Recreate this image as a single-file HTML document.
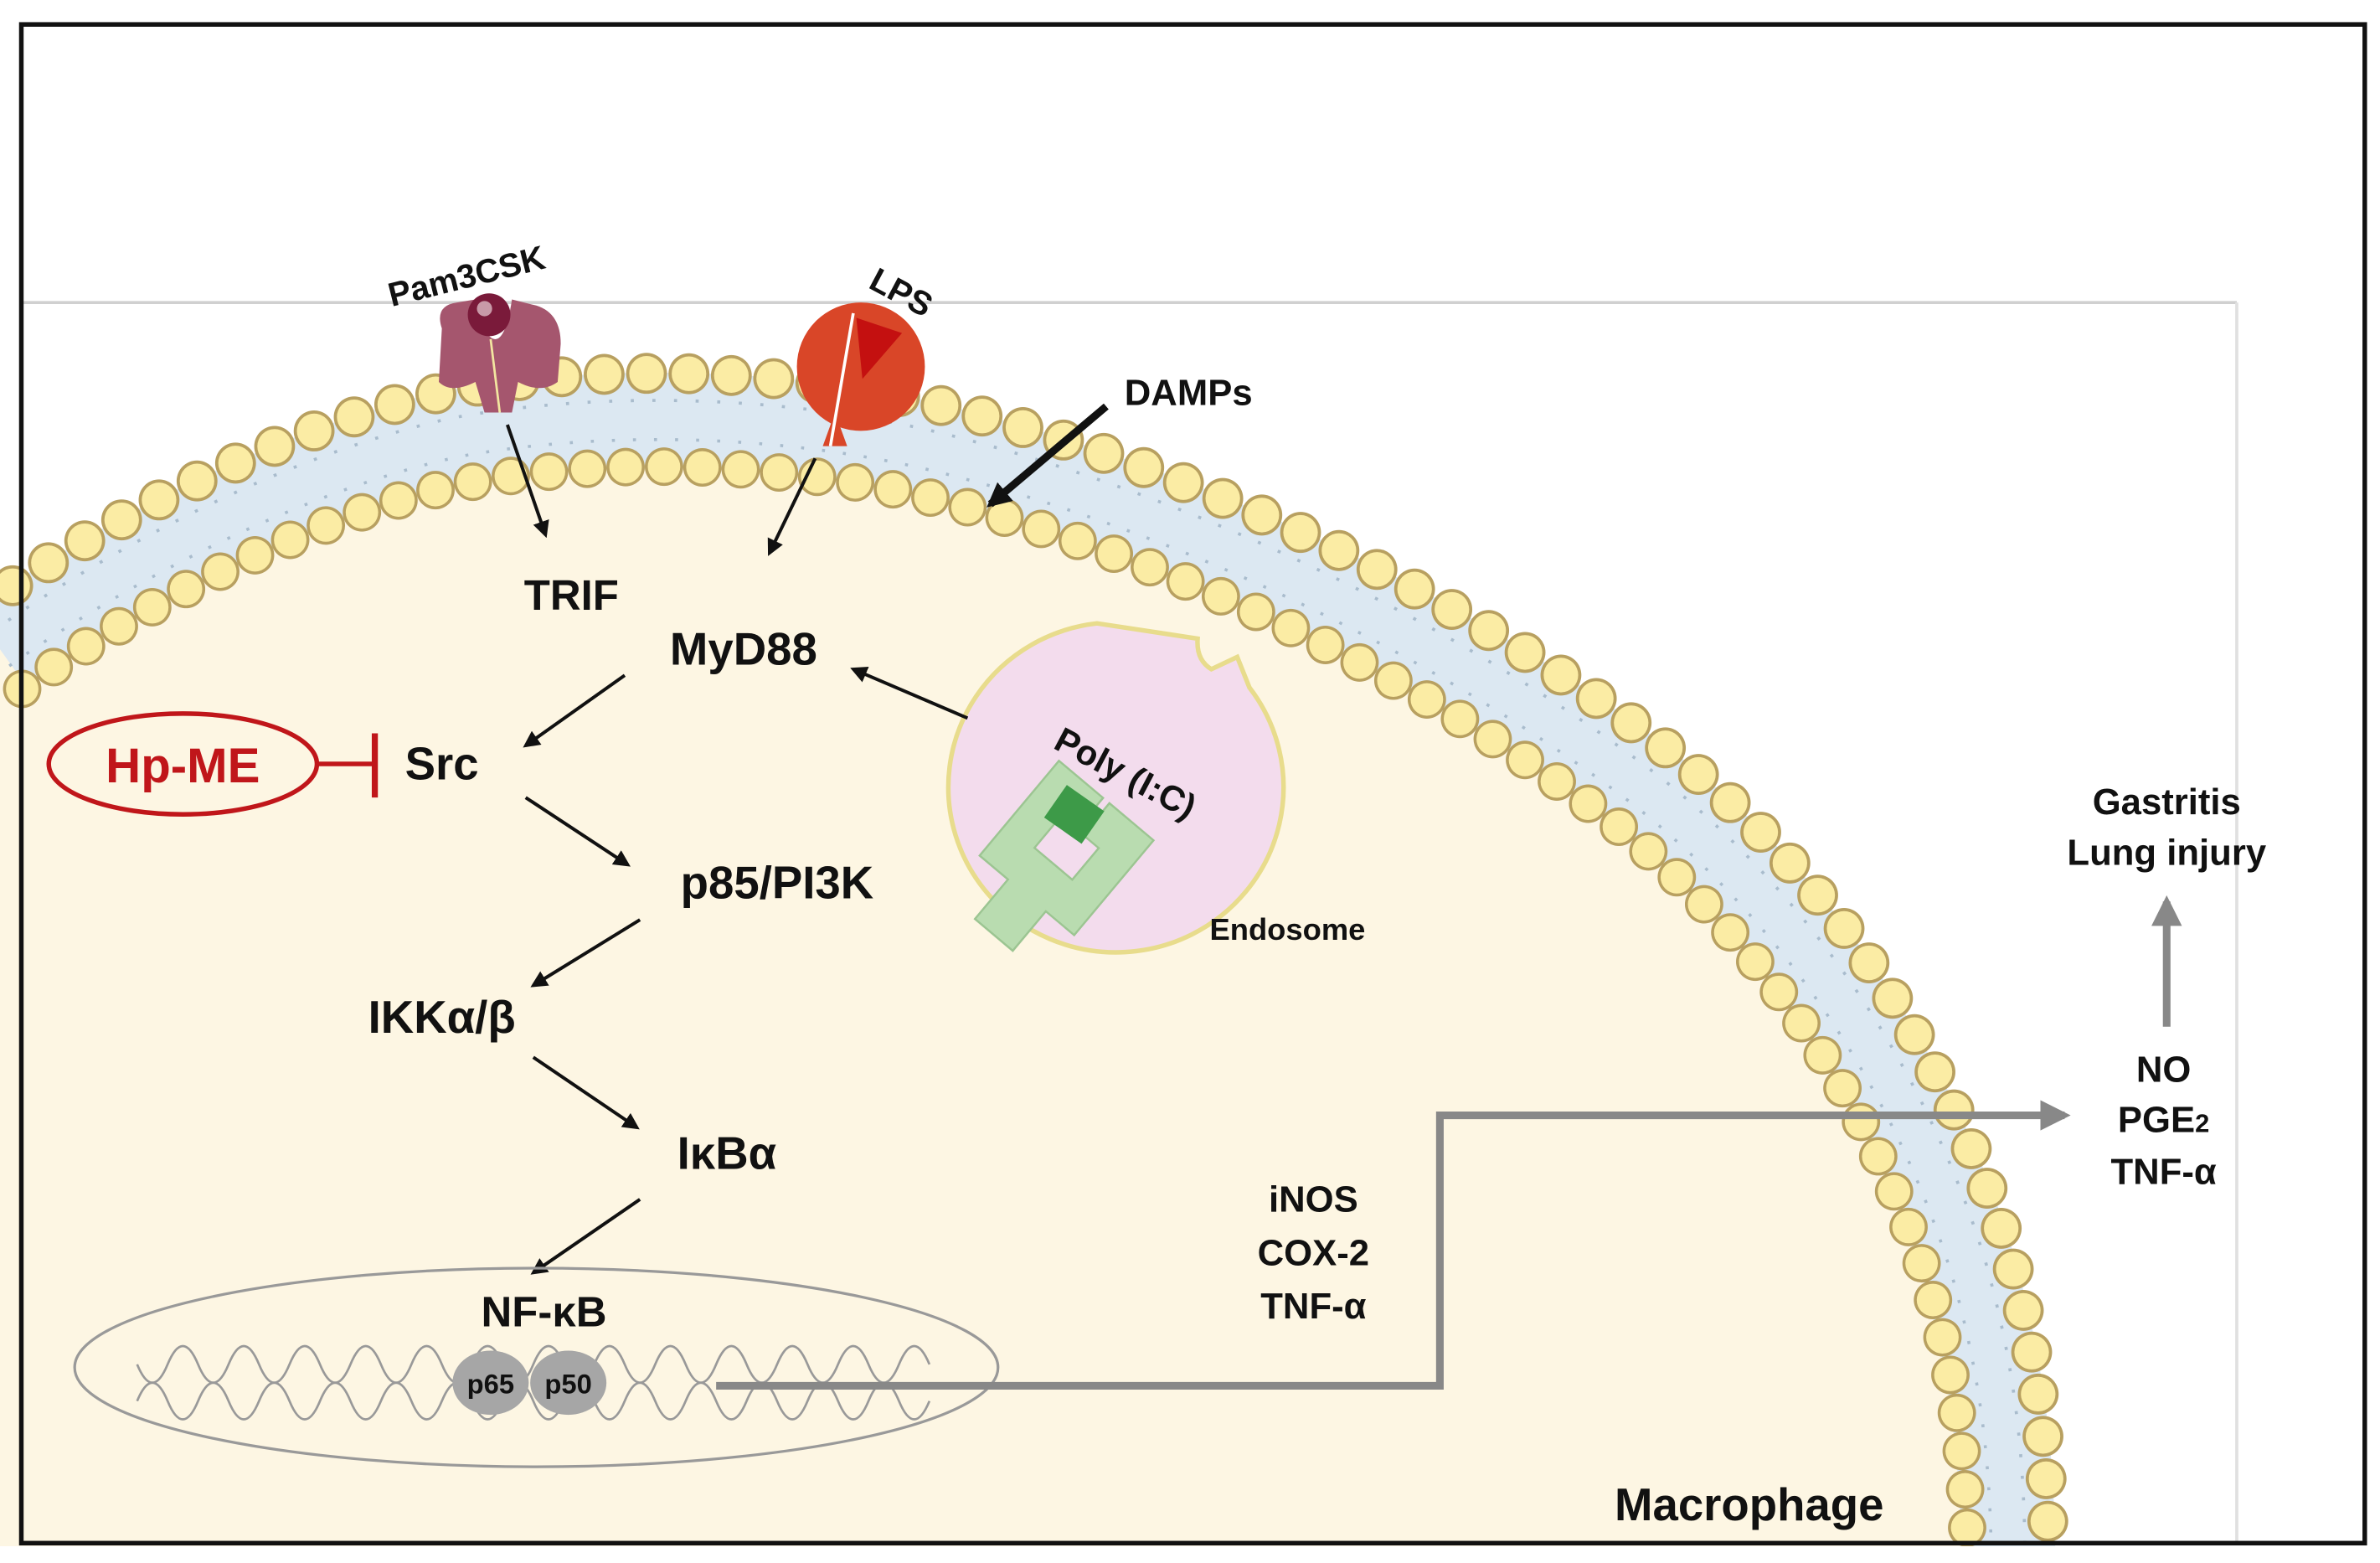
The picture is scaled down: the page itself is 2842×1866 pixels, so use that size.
<!DOCTYPE html>
<html><head><meta charset="utf-8"><style>
html,body{margin:0;padding:0;background:#fff;}
svg{display:block;}
text{font-family:"Liberation Sans",Arial,sans-serif;font-weight:bold;fill:#111;}
</style></head><body>
<svg width="2842" height="1866" viewBox="0 0 1562 1023" preserveAspectRatio="none" xmlns="http://www.w3.org/2000/svg">
<defs>
<marker id="ah" viewBox="0 0 10 10" refX="8" refY="5" markerWidth="5" markerHeight="5" orient="auto"><path d="M0,0 L10,5 L0,10 z" fill="#111"/></marker>
<marker id="ahg" viewBox="0 0 10 10" refX="8" refY="5" markerWidth="4" markerHeight="4" orient="auto"><path d="M0,0 L10,5 L0,10 z" fill="#888"/></marker>
<marker id="ahb" viewBox="0 0 10 10" refX="8" refY="5" markerWidth="3.2" markerHeight="3.2" orient="auto"><path d="M0,0 L10,5 L0,10 z" fill="#111"/></marker>
<path id="mem" d="M0,425 C60,382 180,312 300,286 C400,268 520,272 620,297 C780,337 950,418 1080,517 C1190,604 1258,720 1292,830 C1312,900 1318,960 1318,1030"/>
</defs>
<rect x="0" y="0" width="1562" height="1023" fill="#fff"/>
<path d="M0,425 C60,382 180,312 300,286 C400,268 520,272 620,297 C780,337 950,418 1080,517 C1190,604 1258,720 1292,830 C1312,900 1318,960 1318,1030 L0,1030 Z" fill="#fdf6e3"/>
<line x1="14" y1="198" x2="1468" y2="198" stroke="#d0d0d0" stroke-width="2"/>
<line x1="1468" y1="198" x2="1468" y2="1010" stroke="#e0e0e0" stroke-width="2"/>
<use href="#mem" fill="none" stroke="#dce8f2" stroke-width="62"/>
<use href="#mem" fill="none" stroke="#a9bccd" stroke-width="2" stroke-dasharray="2 12" transform="translate(470,1260) scale(1.013) translate(-470,-1260)"/>
<use href="#mem" fill="none" stroke="#a9bccd" stroke-width="2" stroke-dasharray="2 12" transform="translate(470,1260) scale(0.987) translate(-470,-1260)"/>
<g transform="translate(470,1260) scale(1.031) translate(-470,-1260)">
<use href="#mem" fill="none" stroke="#b8a060" stroke-width="26" stroke-linecap="round" stroke-dasharray="0 27"/>
<use href="#mem" fill="none" stroke="#fbeca4" stroke-width="22" stroke-linecap="round" stroke-dasharray="0 27"/>
</g>
<g transform="translate(470,1260) scale(0.969) translate(-470,-1260)">
<use href="#mem" fill="none" stroke="#b8a060" stroke-width="26" stroke-linecap="round" stroke-dasharray="0 26"/>
<use href="#mem" fill="none" stroke="#fbeca4" stroke-width="22" stroke-linecap="round" stroke-dasharray="0 26"/>
</g>
<rect x="14" y="16" width="1538" height="994" fill="none" stroke="#111" stroke-width="3"/>
<rect x="0" y="1012" width="1562" height="11" fill="#fff"/>

<!-- Pam3CSK receptor -->
<path d="M290,215 Q285,200 300,198 L312,196 Q318,222 325,222 Q332,222 336,196 L352,200 Q368,205 368,225 L366,250 Q355,258 340,250 L336,270 L318,270 L312,250 Q296,258 288,250 Z" fill="#a5566e"/>
<circle cx="321" cy="206" r="14" fill="#7a1a3a"/>
<circle cx="318" cy="202" r="5" fill="#c89aa8"/>
<line x1="322" y1="222" x2="328" y2="270" stroke="#f2e6a0" stroke-width="1.5"/>
<text x="308" y="188" font-size="22" text-anchor="middle" transform="rotate(-14 308 188)">Pam3CSK</text>
<!-- LPS receptor -->
<circle cx="565" cy="240" r="42" fill="#d94628"/>
<path d="M548,270 L540,292 L556,292 Z" fill="#d94628"/>
<path d="M562,208 L592,218 L566,248 Z" fill="#c41010"/>
<line x1="560" y1="205" x2="545" y2="292" stroke="#fff" stroke-width="2"/>
<text x="588" y="198" font-size="22" text-anchor="middle" transform="rotate(28 588 198)">LPS</text>
<text x="738" y="265" font-size="24">DAMPs</text>
<line x1="726" y1="266" x2="650" y2="330" stroke="#111" stroke-width="5" marker-end="url(#ahb)"/>
<line x1="333" y1="278" x2="358" y2="350" stroke="#111" stroke-width="2.2" marker-end="url(#ah)"/>
<line x1="535" y1="300" x2="505" y2="362" stroke="#111" stroke-width="2.2" marker-end="url(#ah)"/>
<text x="375" y="399" font-size="28" text-anchor="middle">TRIF</text>
<text x="488" y="435" font-size="30" text-anchor="middle">MyD88</text>
<!-- Endosome -->
<path d="M720,408 A110,108 0 1 0 820,450 L812,430 L795,438 Q785,432 786,418 Z" fill="#f3dced" stroke="#e8dc8c" stroke-width="3"/>
<g transform="translate(700,555) rotate(40) scale(1.35) translate(-690,-555)">
<path d="M660,525 h28 v20 h-10 v20 h24 v-20 h-10 v-20 h28 v60 h-18 v25 h-24 v-25 h-18 z" fill="#b9dcb0" stroke="#9cc592" stroke-width="1"/>
</g>
<rect x="690" y="520" width="30" height="26" fill="#3d9a48" transform="rotate(35 705 533)"/>
<text x="735" y="513" font-size="23" text-anchor="middle" transform="rotate(28 735 513)">Poly (I:C)</text>
<text x="845" y="615" font-size="20" text-anchor="middle">Endosome</text>
<line x1="635" y1="470" x2="560" y2="438" stroke="#111" stroke-width="2.2" marker-end="url(#ah)"/>
<line x1="410" y1="442" x2="345" y2="488" stroke="#111" stroke-width="2.2" marker-end="url(#ah)"/>
<ellipse cx="120" cy="500" rx="88" ry="33" fill="none" stroke="#c0161a" stroke-width="3"/>
<text x="120" y="512" font-size="32" text-anchor="middle" style="fill:#c0161a">Hp-ME</text>
<line x1="208" y1="500" x2="246" y2="500" stroke="#c0161a" stroke-width="3"/>
<line x1="246" y1="480" x2="246" y2="522" stroke="#c0161a" stroke-width="4"/>
<text x="290" y="510" font-size="30" text-anchor="middle">Src</text>
<line x1="345" y1="522" x2="412" y2="566" stroke="#111" stroke-width="2.2" marker-end="url(#ah)"/>
<text x="510" y="588" font-size="30" text-anchor="middle">p85/PI3K</text>
<line x1="420" y1="602" x2="350" y2="645" stroke="#111" stroke-width="2.2" marker-end="url(#ah)"/>
<text x="290" y="676" font-size="30" text-anchor="middle">IKKα/β</text>
<line x1="350" y1="692" x2="418" y2="738" stroke="#111" stroke-width="2.2" marker-end="url(#ah)"/>
<text x="477" y="765" font-size="30" text-anchor="middle">IκBα</text>
<line x1="420" y1="785" x2="350" y2="833" stroke="#111" stroke-width="2.2" marker-end="url(#ah)"/>
<ellipse cx="352" cy="895" rx="303" ry="65" fill="none" stroke="#999" stroke-width="1.8"/>
<text x="357" y="868" font-size="28" text-anchor="middle">NF-κB</text>
<path d="M90,893 Q100,917 110,893 T130,893 T150,893 T170,893 T190,893 T210,893 T230,893 T250,893 T270,893 T290,893 T310,893 T330,893 T350,893 T370,893 T390,893 T410,893 T430,893 T450,893 T470,893 T490,893 T510,893 T530,893 T550,893 T570,893 T590,893 T610,893" fill="none" stroke="#999" stroke-width="1.5"/>
<path d="M90,917 Q100,893 110,917 T130,917 T150,917 T170,917 T190,917 T210,917 T230,917 T250,917 T270,917 T290,917 T310,917 T330,917 T350,917 T370,917 T390,917 T410,917 T430,917 T450,917 T470,917 T490,917 T510,917 T530,917 T550,917 T570,917 T590,917 T610,917" fill="none" stroke="#999" stroke-width="1.5"/>
<ellipse cx="322" cy="905" rx="25" ry="21" fill="#a6a6a6"/>
<ellipse cx="373" cy="905" rx="25" ry="21" fill="#a6a6a6"/>
<text x="322" y="912" font-size="18" text-anchor="middle">p65</text>
<text x="373" y="912" font-size="18" text-anchor="middle">p50</text>
<polyline points="470,907 945,907 945,730 1355,730" fill="none" stroke="#888" stroke-width="5" marker-end="url(#ahg)"/>
<text x="862" y="793" font-size="24" text-anchor="middle">iNOS</text>
<text x="862" y="828" font-size="24" text-anchor="middle">COX-2</text>
<text x="862" y="863" font-size="24" text-anchor="middle">TNF-α</text>
<text x="1420" y="708" font-size="24" text-anchor="middle">NO</text>
<text x="1420" y="741" font-size="24" text-anchor="middle">PGE<tspan font-size="17">2</tspan></text>
<text x="1420" y="775" font-size="24" text-anchor="middle">TNF-α</text>
<line x1="1422" y1="672" x2="1422" y2="590" stroke="#888" stroke-width="5" marker-end="url(#ahg)"/>
<text x="1422" y="533" font-size="24" text-anchor="middle">Gastritis</text>
<text x="1422" y="566" font-size="24" text-anchor="middle">Lung injury</text>
<text x="1148" y="995" font-size="30" text-anchor="middle">Macrophage</text>
</svg>
</body></html>
